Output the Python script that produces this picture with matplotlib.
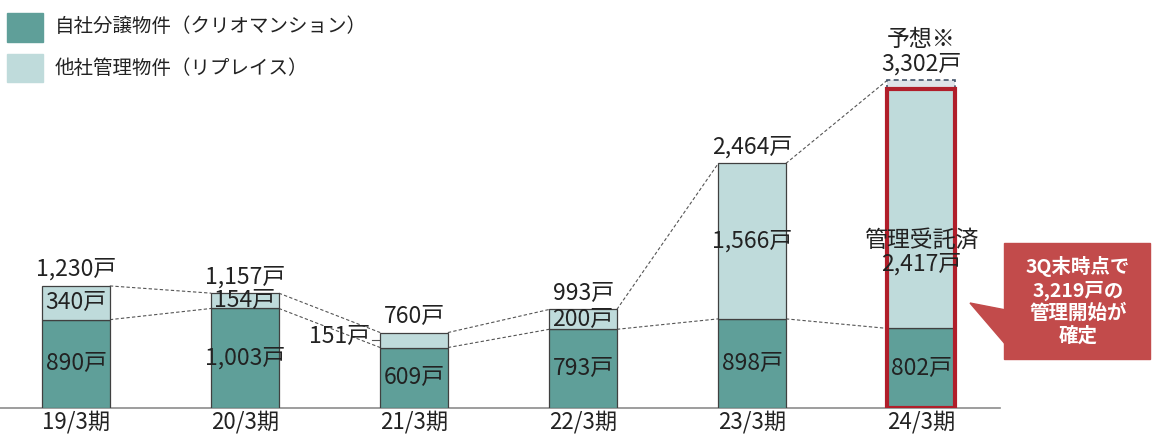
import matplotlib
matplotlib.use('Agg')
import matplotlib.pyplot as plt
from matplotlib.patches import Rectangle, Polygon

plt.rcParams['font.family'] = ['Noto Sans CJK JP', 'DejaVu Sans']

# data
periods = ['19/3期', '20/3期', '21/3期', '22/3期', '23/3期', '24/3期']
own = [890, 1003, 609, 793, 898, 802]          # 自社分譲物件 (クリオマンション)
other = [340, 154, 151, 200, 1566, 2417]       # 他社管理物件 (リプレイス)
forecast_total = 3302                          # 24/3期 予想

dark = '#5f9f99'
light = '#bfdbdb'
txt = '#222222'
W, H = 1152, 437

fig = plt.figure(figsize=(W / 100, H / 100), dpi=100)
ax = fig.add_axes([0, 29 / H, 1000 / W, 397 / H])
ax.set_xlim(-0.45, 5.467)
ax.set_ylim(0, 4000)

x = list(range(len(periods)))
totals = [a + b for a, b in zip(own, other)]
bw = 0.4

ax.bar(x, own, bw, color=dark, edgecolor='#404040', linewidth=0.9, zorder=3)
ax.bar(x, other, bw, bottom=own, color=light, edgecolor='#404040', linewidth=0.9, zorder=3)

# forecast part of 24/3 (dashed box)
last = len(periods) - 1
ax.bar(last, forecast_total - totals[last], bw, bottom=totals[last], color='#dfe3e8',
       edgecolor='#44546a', linewidth=1.2, linestyle=(0, (3, 2)), zorder=3)
# red frame around 24/3
ax.bar(last, totals[last], bw, color='none', edgecolor='#b01e2a', linewidth=3, zorder=4)

# dashed connectors
tops = totals[:-1] + [forecast_total]
for i in range(len(periods) - 1):
    ax.plot([i + bw / 2, i + 1 - bw / 2], [tops[i], tops[i + 1]], color='#555555',
            lw=0.8, ls=(0, (3, 2)), zorder=2)
    ax.plot([i + bw / 2, i + 1 - bw / 2], [own[i], own[i + 1]], color='#555555',
            lw=0.8, ls=(0, (3, 2)), zorder=2)

fs = 16.5
for i in range(len(periods)):
    ax.text(i, own[i] / 2, f'{own[i]:,}戸', ha='center', va='center', fontsize=fs, color=txt, zorder=5)
    if i == 2:
        ax.text(i - bw / 2 - 0.06, own[i] + other[i] / 2 + 40, f'{other[i]:,}戸', ha='right',
                va='center', fontsize=fs, color=txt, zorder=5)
        ax.plot([i - bw / 2 - 0.05, i - bw / 2 - 0.01], [own[i] + other[i] / 2] * 2,
                color='#555555', lw=0.8)
    elif i == last:
        ax.text(i, 1570, f'管理受託済\n{other[i]:,}戸', ha='center', va='center',
                fontsize=fs, color=txt, linespacing=1.0, zorder=5)
    else:
        ax.text(i, own[i] + other[i] / 2, f'{other[i]:,}戸', ha='center', va='center',
                fontsize=fs, color=txt, zorder=5)
    if i != last:
        ax.text(i, totals[i] + 50, f'{totals[i]:,}戸', ha='center', va='bottom', fontsize=fs,
                color=txt, zorder=5)
ax.text(last, forecast_total + 50, f'予想※\n{forecast_total:,}戸', ha='center', va='bottom',
        fontsize=fs, color=txt, linespacing=1.05, zorder=5)

ax.set_xticks(x)
ax.set_xticklabels(periods, fontsize=16, color=txt)
ax.tick_params(axis='x', length=0, pad=2)
ax.set_yticks([])
for s in ['top', 'right', 'left']:
    ax.spines[s].set_visible(False)
ax.spines['bottom'].set_color('#8c8c8c')
ax.spines['bottom'].set_linewidth(1.2)


def fx(px):
    return px / W


def fy(py):
    return 1 - py / H


# legend
fig.add_artist(Rectangle((fx(7), fy(42)), fx(36), 29 / H, transform=fig.transFigure, color=dark))
fig.add_artist(Rectangle((fx(7), fy(82)), fx(36), 28 / H, transform=fig.transFigure, color=light))
fig.text(fx(55), fy(27), '自社分譲物件（クリオマンション）', fontsize=14, color=txt, va='center')
fig.text(fx(55), fy(68), '他社管理物件（リプレイス）', fontsize=14, color=txt, va='center')

# callout
red = '#c24b4b'
fig.add_artist(Rectangle((fx(1004), fy(359)), fx(146), 116 / H, transform=fig.transFigure,
                         color=red))
fig.add_artist(Polygon([(fx(970), fy(303)), (fx(1006), fy(310)), (fx(1006), fy(345))],
                       closed=True, transform=fig.transFigure, color=red))
fig.text(fx(1078), fy(301), '3Q末時点で\n3,219戸の\n管理開始が\n確定', ha='center', va='center',
         fontsize=14, color='white', fontweight='bold', linespacing=1.2)

fig.savefig('out.png', dpi=100)
